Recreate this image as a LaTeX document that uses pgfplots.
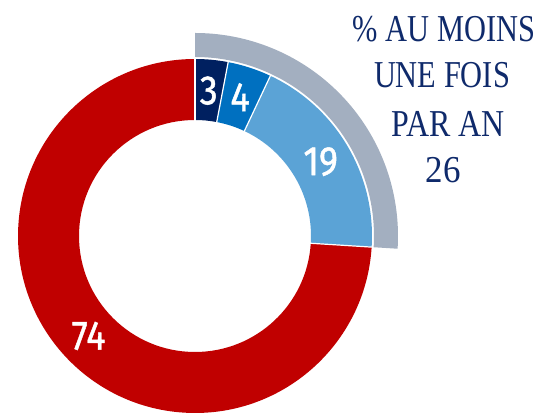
\documentclass[border=0pt]{standalone}
\usepackage{pgfplots}
\pgfplotsset{compat=1.18}
\usepackage{fontspec}
\setmainfont{Liberation Serif}
\newfontfamily\numfont[FakeBold=1.2]{Fira Sans}
\usetikzlibrary{calc}
\definecolor{cNavy}{HTML}{002060}
\definecolor{cBlue}{HTML}{0070C0}
\definecolor{cLight}{HTML}{5BA3D6}
\definecolor{cRed}{HTML}{C00000}
\definecolor{cGrey}{HTML}{A3AFC0}
\definecolor{cText}{HTML}{0F2A6B}
% data (percent)
\def\vA{3}\def\vB{4}\def\vC{19}\def\vD{74}\def\vTot{26}
\pgfmathsetmacro\angA{90-3.6*\vA}
\pgfmathsetmacro\angB{\angA-3.6*\vB}
\pgfmathsetmacro\angC{\angB-3.6*\vC}
\pgfmathsetmacro\angD{\angC-3.6*\vD}
\pgfmathsetmacro\angG{90-3.6*\vTot}
\pgfmathsetmacro\mA{(90+\angA)/2}
\pgfmathsetmacro\mB{(\angA+\angB)/2}
\pgfmathsetmacro\mC{(\angB+\angC)/2}
\pgfmathsetmacro\mD{(\angC+\angD)/2}
\newcommand{\ring}[5]{% start, end, rin, rout, color
  \fill[#5] (#1:#4pt) arc[start angle=#1, end angle=#2, radius=#4pt]
    -- (#2:#3pt) arc[start angle=#2, end angle=#1, radius=#3pt] -- cycle;}
\newcommand{\sep}[1]{\draw[white, line width=1.2pt] (#1:115pt) -- (#1:178pt);}
\begin{document}
\begin{tikzpicture}
\begin{axis}[scale only axis, width=540pt, height=415pt,
  xmin=-195, xmax=345, ymin=-179, ymax=236, hide axis, clip=false]
\path[draw=none] (rel axis cs:0,0) rectangle (rel axis cs:1,1);
\begin{scope}[shift={(axis cs:0,0)}]
  \ring{90}{\angG}{179}{203}{cGrey}
  \ring{90}{\angA}{116}{177}{cNavy}
  \ring{\angA}{\angB}{116}{177}{cBlue}
  \ring{\angB}{\angC}{116}{177}{cLight}
  \ring{\angC}{\angD}{116}{177}{cRed}
  \sep{90}\sep{\angA}\sep{\angB}\sep{\angC}
  \node[text=white, font=\numfont\fontsize{41}{41}\selectfont] at (\mA:146pt) {\scalebox{0.88}[1]{\vA}};
  \node[text=white, font=\numfont\fontsize{41}{41}\selectfont] at (\mB:146pt) {\scalebox{0.88}[1]{\vB}};
  \node[text=white, font=\numfont\fontsize{41}{41}\selectfont] at (\mC:146pt) {\scalebox{0.88}[1]{\vC}};
  \node[text=white, font=\numfont\fontsize{41}{41}\selectfont] at (\mD:146pt) {\scalebox{0.88}[1]{\vD}};
\end{scope}
\node[anchor=base, text=cText, font=\fontsize{38}{38}\selectfont, inner sep=0pt] at (axis cs:249,194) {\scalebox{0.8}[1]{\% AU MOINS}};
\node[anchor=base, text=cText, font=\fontsize{38}{38}\selectfont, inner sep=0pt] at (axis cs:247,148) {\scalebox{0.8}[1]{UNE FOIS}};
\node[anchor=base, text=cText, font=\fontsize{38}{38}\selectfont, inner sep=0pt] at (axis cs:253,99) {\scalebox{0.84}[1]{PAR AN}};
\node[anchor=base, text=cText, font=\fontsize{38}{38}\selectfont, inner sep=0pt] at (axis cs:248,53) {\scalebox{0.92}[1]{\vTot}};
\end{axis}
\end{tikzpicture}
\end{document}
